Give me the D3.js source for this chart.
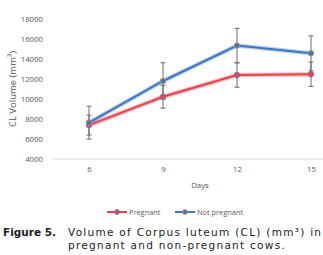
<!DOCTYPE html>
<html>
<head>
<meta charset="utf-8">
<script src="https://cdn.jsdelivr.net/npm/d3@7"></script>
<style>
  body { margin: 0; background: #fff; }
  svg { display: block; }
</style>
</head>
<body>
<svg id="chart" width="323" height="255"></svg>
<script>
const days = [6, 9, 12, 15];
const yTicks = [4000, 6000, 8000, 10000, 12000, 14000, 16000, 18000];
const pregnant = [7350, 10200, 12370, 12460];
const pregnantErr = [1000, 1150, 1220, 1220];
const notPregnant = [7600, 11780, 15340, 14560];
const notPregnantErr = [1650, 1830, 1720, 1750];
const seriesNames = ["Pregnant", "Not pregnant"];

const series = [
  {name: seriesNames[0], values: pregnant, err: pregnantErr, color: "#e8434b", markerStroke: "#5b7fc8"},
  {name: seriesNames[1], values: notPregnant, err: notPregnantErr, color: "#3a78c3", markerStroke: "#ed8a45"}
];

const svg = d3.select("#chart");
const tickFont = "'Open Sans', 'Liberation Sans', sans-serif";

// plot area runs past the right edge (image is cropped)
const x = d3.scalePoint()
    .domain(days)
    .range([52, 348])
    .padding(0.5);

const y = d3.scaleLinear()
    .domain([4000, 18000])
    .range([158.5, 19]);

// Y axis (labels only)
const yAxis = svg.append("g")
    .attr("transform", "translate(52,0)")
    .call(d3.axisLeft(y).tickValues(yTicks).tickFormat(d3.format("d")).tickSize(0).tickPadding(9));
yAxis.select(".domain").remove();
yAxis.selectAll("text")
    .attr("fill", "#595959")
    .style("font-family", tickFont)
    .style("font-size", "7.8px");

// X axis
const xAxis = svg.append("g")
    .attr("transform", "translate(0,158.5)")
    .call(d3.axisBottom(x).tickSize(0).tickPadding(8));
xAxis.select(".domain")
    .attr("stroke", "#d9d9d9")
    .attr("stroke-width", 1);
xAxis.selectAll("text")
    .attr("fill", "#595959")
    .style("font-family", tickFont)
    .style("font-size", "7.8px");

// axis titles
svg.append("text")
    .attr("transform", "translate(16,89) rotate(-90)")
    .attr("text-anchor", "middle")
    .attr("fill", "#595959")
    .style("font-family", tickFont)
    .style("font-size", "9.5px")
    .text("CL Volume (mm³)");

svg.append("text")
    .attr("x", 200)
    .attr("y", 188)
    .attr("text-anchor", "middle")
    .attr("fill", "#595959")
    .style("font-family", tickFont)
    .style("font-size", "7.8px")
    .text("Days");

const line = d3.line()
    .x((d, i) => x(days[i]))
    .y(d => y(d));

// lines with soft halo
series.forEach(s => {
  svg.append("path")
      .datum(s.values)
      .attr("d", line)
      .attr("fill", "none")
      .attr("stroke", s.color)
      .attr("stroke-opacity", 0.35)
      .attr("stroke-width", 4.5);
  svg.append("path")
      .datum(s.values)
      .attr("d", line)
      .attr("fill", "none")
      .attr("stroke", s.color)
      .attr("stroke-width", 2);
});

// error bars
series.forEach(s => {
  const g = svg.append("g").attr("stroke", "#6a6a6a").attr("stroke-width", 1);
  s.values.forEach((v, i) => {
    const cx = x(days[i]);
    const lo = y(v - s.err[i]), hi = y(v + s.err[i]);
    g.append("line").attr("x1", cx).attr("x2", cx).attr("y1", lo).attr("y2", hi);
    g.append("line").attr("x1", cx - 2.5).attr("x2", cx + 2.5).attr("y1", lo).attr("y2", lo);
    g.append("line").attr("x1", cx - 2.5).attr("x2", cx + 2.5).attr("y1", hi).attr("y2", hi);
  });
});

// markers
series.forEach(s => {
  svg.append("g").selectAll("circle")
      .data(s.values)
      .enter()
      .append("circle")
      .attr("cx", (d, i) => x(days[i]))
      .attr("cy", d => y(d))
      .attr("r", 2.8)
      .attr("fill", s.color)
      .attr("stroke", s.markerStroke)
      .attr("stroke-width", 0.8);
});

// legend
const legendX = [107, 175];
const legend = svg.append("g").attr("transform", "translate(0,212)");
series.forEach((s, i) => {
  const lx = legendX[i];
  legend.append("line")
      .attr("x1", lx).attr("x2", lx + 20)
      .attr("y1", 0).attr("y2", 0)
      .attr("stroke", s.color).attr("stroke-width", 2);
  legend.append("circle")
      .attr("cx", lx + 10).attr("cy", 0).attr("r", 2.5)
      .attr("fill", s.color)
      .attr("stroke", s.markerStroke).attr("stroke-width", 0.8);
  legend.append("text")
      .attr("x", lx + 22).attr("y", 2.6)
      .attr("fill", "#595959")
      .style("font-family", tickFont)
      .style("font-size", "7.4px")
      .text(s.name);
});

// caption
const capFont = "'DejaVu Sans', sans-serif";
svg.append("text")
    .attr("x", 3).attr("y", 236)
    .attr("fill", "#222")
    .style("font-family", capFont)
    .style("font-size", "10.5px")
    .style("font-weight", "bold")
    .text("Figure 5.");
const cap1 = svg.append("text")
    .attr("x", 68).attr("y", 236)
    .attr("fill", "#222")
    .style("font-family", capFont)
    .style("font-size", "10.5px")
    .text("Volume of Corpus luteum (CL) (mm³) in");
const cap2 = svg.append("text")
    .attr("x", 68).attr("y", 249)
    .attr("fill", "#222")
    .style("font-family", capFont)
    .style("font-size", "10.5px")
    .text("pregnant and non-pregnant cows.");

// spread the caption letters so the first line spans the original width
const txt = cap1.text();
const w = cap1.node().getComputedTextLength();
const ls = Math.max(0, (253 - w) / (txt.length - 1));
cap1.attr("letter-spacing", ls);
cap2.attr("letter-spacing", ls);
</script>
</body>
</html>
